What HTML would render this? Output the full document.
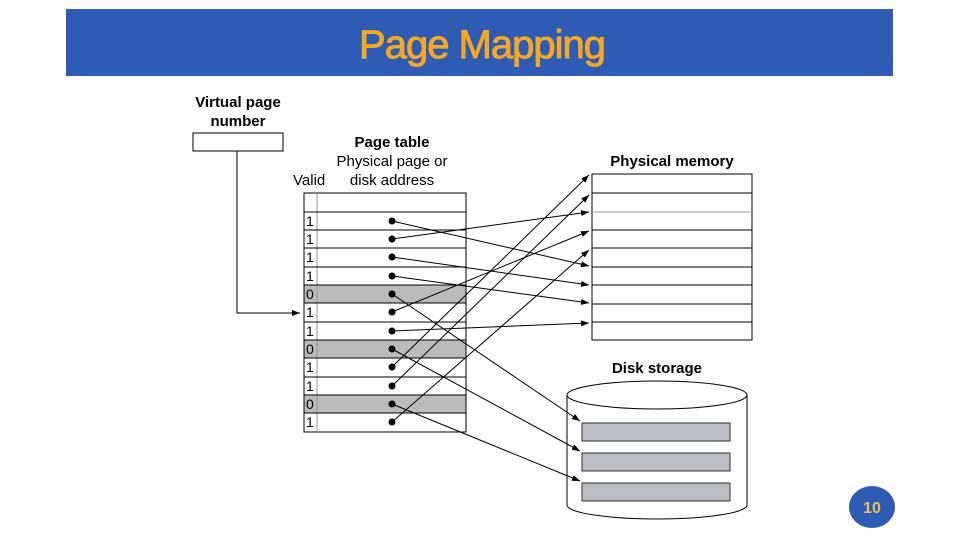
<!DOCTYPE html>
<html><head><meta charset="utf-8"><style>
html,body{margin:0;padding:0;background:#fff;width:960px;height:540px;overflow:hidden}
svg{display:block}
</style></head><body>
<svg width="960" height="540" viewBox="0 0 960 540" xmlns="http://www.w3.org/2000/svg" font-family="Liberation Sans, Arial, sans-serif">
<defs>
<marker id="a" markerWidth="8" markerHeight="6" refX="8" refY="3" orient="auto" markerUnits="userSpaceOnUse"><path d="M0,0 L8,3 L0,6 z" fill="#000"/></marker>
</defs>
<rect x="66" y="9" width="827" height="67" fill="#2E5CB4"/>
<text x="482" y="58" text-anchor="middle" font-size="40" fill="#F4A823" stroke="#F4A823" stroke-width="0.9" letter-spacing="-1">Page Mapping</text>

<text x="238" y="107" text-anchor="middle" font-size="15" font-weight="bold">Virtual page</text>
<text x="238" y="126" text-anchor="middle" font-size="15" font-weight="bold">number</text>
<rect x="193" y="133" width="90" height="18" fill="#fff" stroke="#000"/>
<polyline points="237,151 237,313 300,313" fill="none" stroke="#000" marker-end="url(#a)"/>

<text x="392" y="147" text-anchor="middle" font-size="15" font-weight="bold">Page table</text>
<text x="392" y="166" text-anchor="middle" font-size="15">Physical page or</text>
<text x="293" y="185" font-size="15">Valid</text>
<text x="392" y="185" text-anchor="middle" font-size="15">disk address</text>

<g stroke="#000" stroke-width="1">
<rect x="304" y="285" width="162" height="18" fill="#BBB" stroke="none"/>
<rect x="304" y="340" width="162" height="18" fill="#BBB" stroke="none"/>
<rect x="304" y="395" width="162" height="18" fill="#BBB" stroke="none"/>
<rect x="304" y="193" width="162" height="239" fill="none"/>
<line x1="317" y1="193" x2="317" y2="432" stroke="#999"/>
<line x1="304" y1="212" x2="466" y2="212"/><line x1="304" y1="230" x2="466" y2="230"/>
<line x1="304" y1="248" x2="466" y2="248"/><line x1="304" y1="267" x2="466" y2="267"/>
<line x1="304" y1="285" x2="466" y2="285"/><line x1="304" y1="303" x2="466" y2="303"/>
<line x1="304" y1="322" x2="466" y2="322"/><line x1="304" y1="340" x2="466" y2="340"/>
<line x1="304" y1="358" x2="466" y2="358"/><line x1="304" y1="377" x2="466" y2="377"/>
<line x1="304" y1="395" x2="466" y2="395"/><line x1="304" y1="413" x2="466" y2="413"/>
</g>
<g font-size="14">
<text x="306" y="226">1</text><text x="306" y="244">1</text><text x="306" y="262">1</text>
<text x="306" y="281">1</text><text x="306" y="299">0</text><text x="306" y="317">1</text>
<text x="306" y="336">1</text><text x="306" y="354">0</text><text x="306" y="372">1</text>
<text x="306" y="391">1</text><text x="306" y="409">0</text><text x="306" y="427">1</text>
</g>
<g fill="#000">
<circle cx="392" cy="221" r="3.5"/><circle cx="392" cy="239" r="3.5"/><circle cx="392" cy="257" r="3.5"/>
<circle cx="392" cy="276" r="3.5"/><circle cx="392" cy="294" r="3.5"/><circle cx="392" cy="312" r="3.5"/>
<circle cx="392" cy="331" r="3.5"/><circle cx="392" cy="349" r="3.5"/><circle cx="392" cy="367" r="3.5"/>
<circle cx="392" cy="386" r="3.5"/><circle cx="392" cy="404" r="3.5"/><circle cx="392" cy="422" r="3.5"/>
</g>

<text x="672" y="166" text-anchor="middle" font-size="15" font-weight="bold">Physical memory</text>
<g stroke="#000">
<rect x="592" y="174" width="160" height="166" fill="none"/>
<line x1="592" y1="193" x2="752" y2="193"/><line x1="592" y1="212" x2="752" y2="212" stroke="#999"/>
<line x1="592" y1="230" x2="752" y2="230"/><line x1="592" y1="248" x2="752" y2="248"/>
<line x1="592" y1="267" x2="752" y2="267"/><line x1="592" y1="285" x2="752" y2="285"/>
<line x1="592" y1="304" x2="752" y2="304"/><line x1="592" y1="322" x2="752" y2="322"/>
</g>

<text x="657" y="373" text-anchor="middle" font-size="15" font-weight="bold">Disk storage</text>
<path d="M567,395 L567,505 A90,14 0 0 0 747,505 L747,395" fill="#fff" stroke="#000"/>
<ellipse cx="657" cy="395" rx="90" ry="14" fill="#fff" stroke="#000"/>
<g fill="#BCBDC2" stroke="#333">
<rect x="582" y="423" width="148" height="18"/>
<rect x="582" y="453" width="148" height="18"/>
<rect x="582" y="483" width="148" height="18"/>
</g>

<g stroke="#000" stroke-width="1" fill="none" marker-end="url(#a)">
<line x1="392" y1="221" x2="589" y2="266"/>
<line x1="392" y1="239" x2="589" y2="212"/>
<line x1="392" y1="257" x2="589" y2="285"/>
<line x1="392" y1="276" x2="589" y2="303"/>
<line x1="392" y1="294" x2="580" y2="421"/>
<line x1="392" y1="312" x2="589" y2="231"/>
<line x1="392" y1="331" x2="589" y2="323"/>
<line x1="392" y1="349" x2="580" y2="451"/>
<line x1="392" y1="367" x2="589" y2="175"/>
<line x1="392" y1="386" x2="589" y2="195"/>
<line x1="392" y1="404" x2="580" y2="481"/>
<line x1="392" y1="422" x2="589" y2="250"/>
</g>

<ellipse cx="872" cy="507" rx="23" ry="21" fill="#2E5CB4"/>
<text x="872" y="513" text-anchor="middle" font-size="16" font-weight="bold" fill="#E8C060">10</text>
</svg>
</body></html>
